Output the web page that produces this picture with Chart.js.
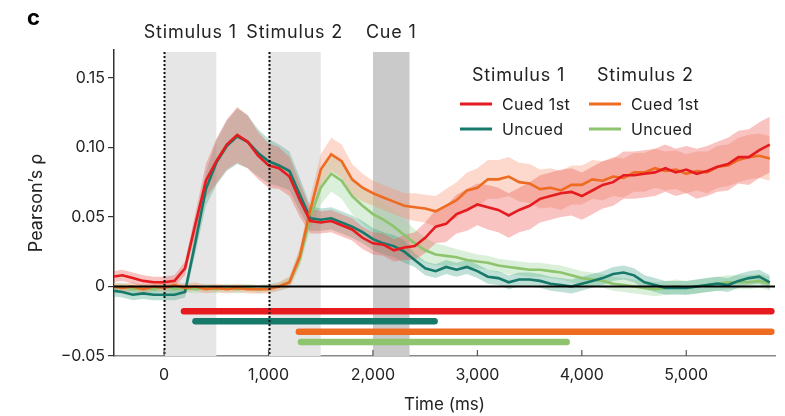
<!DOCTYPE html>
<html>
<head>
<meta charset="utf-8">
<script src="https://cdn.jsdelivr.net/npm/chart.js@4.4.0/dist/chart.umd.min.js"></script>
<style>
  html, body { margin: 0; padding: 0; background: #fff; }
</style>
</head>
<body>
<canvas id="chart" width="785" height="416"></canvas>
<script>
// Temps (ms)
const times = [-500, -400, -300, -200, -100, 0, 100, 200, 300, 400,
  500, 600, 700, 800, 900, 1000, 1100, 1200, 1300, 1400,
  1500, 1600, 1700, 1800, 1900, 2000, 2100, 2200, 2300, 2400,
  2500, 2600, 2700, 2800, 2900, 3000, 3100, 3200, 3300, 3400,
  3500, 3600, 3700, 3800, 3900, 4000, 4100, 4200, 4300, 4400,
  4500, 4600, 4700, 4800, 4900, 5000, 5100, 5200, 5300, 5400,
  5500, 5600, 5700, 5800];

// Stimulus 1 - cued 1st
const stim1Cued = [0.007, 0.008, 0.006, 0.004, 0.003, 0.003, 0.004, 0.013, 0.045, 0.076,
  0.090, 0.102, 0.109, 0.104, 0.094, 0.087, 0.085, 0.079, 0.062, 0.047,
  0.046, 0.047, 0.044, 0.041, 0.035, 0.031, 0.030, 0.026, 0.028, 0.029,
  0.035, 0.043, 0.045, 0.052, 0.055, 0.059, 0.057, 0.055, 0.051, 0.055,
  0.058, 0.063, 0.065, 0.067, 0.068, 0.065, 0.069, 0.073, 0.075, 0.080,
  0.080, 0.081, 0.082, 0.085, 0.082, 0.084, 0.081, 0.083, 0.086, 0.088,
  0.093, 0.093, 0.098, 0.102];
const stim1CuedErr = [0.004, 0.004, 0.004, 0.004, 0.004, 0.004, 0.004, 0.005, 0.008, 0.012,
  0.016, 0.018, 0.020, 0.019, 0.017, 0.016, 0.015, 0.014, 0.012, 0.009,
  0.008, 0.008, 0.008, 0.008, 0.008, 0.008, 0.008, 0.008, 0.009, 0.010,
  0.011, 0.012, 0.013, 0.014, 0.015, 0.015, 0.016, 0.016, 0.016, 0.016,
  0.017, 0.017, 0.017, 0.017, 0.017, 0.017, 0.017, 0.017, 0.017, 0.017,
  0.017, 0.017, 0.017, 0.017, 0.017, 0.017, 0.018, 0.018, 0.018, 0.019,
  0.019, 0.020, 0.020, 0.020];

// Stimulus 1 - uncued
const stim1Uncued = [-0.003, -0.004, -0.006, -0.005, -0.006, -0.006, -0.006, -0.004, 0.032, 0.070,
  0.089, 0.101, 0.108, 0.104, 0.096, 0.090, 0.087, 0.083, 0.066, 0.049,
  0.048, 0.049, 0.046, 0.043, 0.039, 0.034, 0.031, 0.029, 0.025, 0.019,
  0.013, 0.011, 0.014, 0.012, 0.014, 0.011, 0.007, 0.006, 0.003, 0.005,
  0.005, 0.004, 0.002, 0.001, 0.000, 0.002, 0.004, 0.006, 0.009, 0.010,
  0.008, 0.003, 0.001, -0.001, -0.001, -0.001, 0.000, 0.001, 0.002, 0.001,
  0.004, 0.006, 0.007, 0.003];
const stim1UncuedErr = [0.004, 0.004, 0.004, 0.004, 0.004, 0.004, 0.004, 0.004, 0.008, 0.012,
  0.016, 0.018, 0.020, 0.019, 0.017, 0.016, 0.015, 0.014, 0.012, 0.009,
  0.008, 0.008, 0.008, 0.008, 0.008, 0.008, 0.008, 0.008, 0.008, 0.005,
  0.005, 0.005, 0.005, 0.005, 0.005, 0.005, 0.005, 0.005, 0.005, 0.005,
  0.005, 0.005, 0.005, 0.005, 0.005, 0.005, 0.005, 0.005, 0.005, 0.005,
  0.005, 0.005, 0.005, 0.005, 0.005, 0.005, 0.005, 0.005, 0.005, 0.005,
  0.005, 0.005, 0.005, 0.005];

// Stimulus 2 - cued 1st
const stim2Cued = [0.000, -0.001, 0.000, -0.002, 0.000, -0.001, 0.001, -0.001, 0.000, -0.002,
  -0.001, -0.002, -0.001, -0.002, -0.002, -0.002, 0.000, 0.003, 0.022, 0.055,
  0.084, 0.095, 0.090, 0.077, 0.071, 0.067, 0.064, 0.061, 0.058, 0.057,
  0.056, 0.054, 0.058, 0.062, 0.069, 0.071, 0.077, 0.077, 0.079, 0.075,
  0.074, 0.070, 0.071, 0.069, 0.073, 0.073, 0.077, 0.076, 0.079, 0.078,
  0.082, 0.082, 0.085, 0.083, 0.084, 0.081, 0.083, 0.082, 0.086, 0.087,
  0.091, 0.093, 0.094, 0.092];
const stim2CuedErr = [0.003, 0.003, 0.003, 0.003, 0.003, 0.003, 0.003, 0.003, 0.003, 0.003,
  0.003, 0.003, 0.003, 0.003, 0.003, 0.003, 0.003, 0.004, 0.006, 0.009,
  0.011, 0.012, 0.012, 0.011, 0.010, 0.009, 0.009, 0.009, 0.009, 0.010,
  0.010, 0.011, 0.012, 0.013, 0.013, 0.014, 0.014, 0.014, 0.014, 0.014,
  0.014, 0.014, 0.014, 0.014, 0.014, 0.014, 0.014, 0.014, 0.014, 0.014,
  0.014, 0.014, 0.014, 0.014, 0.014, 0.014, 0.014, 0.015, 0.015, 0.015,
  0.016, 0.016, 0.016, 0.016];

// Stimulus 2 - uncued
const stim2Uncued = [-0.001, 0.000, -0.002, -0.001, -0.002, 0.000, -0.002, -0.001, -0.002, -0.001,
  -0.002, -0.001, -0.002, -0.001, -0.002, -0.001, 0.000, 0.003, 0.020, 0.050,
  0.071, 0.081, 0.076, 0.065, 0.058, 0.052, 0.048, 0.043, 0.037, 0.031,
  0.026, 0.023, 0.022, 0.021, 0.019, 0.018, 0.017, 0.015, 0.014, 0.013,
  0.012, 0.012, 0.011, 0.010, 0.008, 0.006, 0.005, 0.004, 0.002, 0.001,
  0.000, -0.001, -0.002, -0.001, 0.000, -0.001, 0.000, 0.001, 0.002, 0.003,
  0.003, 0.003, 0.004, 0.002];
const stim2UncuedErr = [0.003, 0.003, 0.003, 0.003, 0.003, 0.003, 0.003, 0.003, 0.003, 0.003,
  0.003, 0.003, 0.003, 0.003, 0.003, 0.003, 0.003, 0.004, 0.006, 0.009,
  0.012, 0.013, 0.013, 0.013, 0.013, 0.013, 0.012, 0.012, 0.011, 0.010,
  0.009, 0.008, 0.007, 0.006, 0.006, 0.005, 0.005, 0.005, 0.005, 0.005,
  0.005, 0.005, 0.005, 0.005, 0.005, 0.005, 0.005, 0.005, 0.005, 0.005,
  0.005, 0.005, 0.005, 0.005, 0.005, 0.005, 0.005, 0.005, 0.005, 0.005,
  0.005, 0.005, 0.005, 0.005];

// Barres de significativité (début, fin en ms, niveau en rho)
const sigStart = [190, 300, 1290, 1310];
const sigEnd = [5815, 2590, 5815, 3855];
const sigLevel = [-0.0178, -0.025, -0.0326, -0.040];

// Fenêtres grisées
const windowStart = [0, 1000, 2000];
const windowEnd = [500, 1500, 2350];
const windowLabels = ['Stimulus 1', 'Stimulus 2', 'Cue 1'];
const onsetLines = [0, 1000];

const xTicks = [0, 1000, 2000, 3000, 4000, 5000];
const xTickLabels = ['0', '1,000', '2,000', '3,000', '4,000', '5,000'];
const yTicks = [-0.05, 0, 0.05, 0.10, 0.15];
const yTickLabels = ['\u22120.05', '0', '0.05', '0.10', '0.15'];

const FONT = 'Inter, "Noto Sans", sans-serif';
const RED = '#e51b1f', TEAL = '#17796a', ORANGE = '#ee6b22', GREEN = '#8dc46d';

const pts = (vals, err, sign) => times.map((t, i) => ({ x: t, y: vals[i] + sign * (err ? err[i] : 0) }));

function band(vals, err, color, order) {
    return [
        { data: pts(vals, err, 1), borderWidth: 0, pointRadius: 0, fill: false, order: order },
        { data: pts(vals, err, -1), borderWidth: 0, pointRadius: 0, fill: '-1', backgroundColor: color, order: order }
    ];
}

function line(vals, color, order) {
    return { data: pts(vals, null, 0), borderColor: color, borderWidth: 2.6, pointRadius: 0, fill: false, order: order };
}

const sigColors = [RED, TEAL, ORANGE, GREEN];
const sigSets = sigStart.map((s, i) => ({
    data: [{ x: s, y: sigLevel[i] }, { x: sigEnd[i], y: sigLevel[i] }],
    borderColor: sigColors[i], borderWidth: 6.5, borderCapStyle: 'round',
    pointRadius: 0, fill: false, order: 0
}));

const datasets = [
    ...band(stim1Cued, stim1CuedErr, 'rgba(236,90,80,0.36)', 11),
    ...band(stim2Cued, stim2CuedErr, 'rgba(246,145,105,0.34)', 12),
    ...band(stim1Uncued, stim1UncuedErr, 'rgba(60,160,130,0.33)', 13),
    ...band(stim2Uncued, stim2UncuedErr, 'rgba(165,218,165,0.4)', 14),
    line(stim1Cued, RED, 1),
    line(stim2Cued, ORANGE, 2),
    line(stim1Uncued, TEAL, 3),
    line(stim2Uncued, GREEN, 4),
    ...sigSets
];

// Décor : zones grisées, lignes pointillées, textes et légende
const decor = {
    id: 'decor',
    beforeDatasetsDraw(chart) {
        const { ctx, chartArea: a, scales: { x } } = chart;
        ctx.save();
        windowStart.forEach((s, i) => {
            ctx.fillStyle = i === 2 ? '#cacaca' : '#e6e6e6';
            const x0 = x.getPixelForValue(s), x1 = x.getPixelForValue(windowEnd[i]);
            ctx.fillRect(x0, a.top + 2, x1 - x0, a.bottom - a.top - 2);
        });
        ctx.restore();
    },
    afterDatasetsDraw(chart) {
        const { ctx, chartArea: a, scales: { x, y } } = chart;
        ctx.save();
        // ligne zéro
        ctx.strokeStyle = '#000';
        ctx.lineWidth = 2;
        ctx.beginPath();
        ctx.moveTo(a.left, y.getPixelForValue(0));
        ctx.lineTo(a.right, y.getPixelForValue(0));
        ctx.stroke();
        // onsets
        ctx.setLineDash([2, 2]);
        ctx.strokeStyle = '#111';
        onsetLines.forEach(t => {
            const px = Math.round(x.getPixelForValue(t)) + 0.5;
            ctx.beginPath();
            ctx.moveTo(px, a.top + 2);
            ctx.lineTo(px, a.bottom);
            ctx.stroke();
        });
        ctx.setLineDash([]);
        // petites graduations vers l'intérieur
        ctx.strokeStyle = '#555';
        ctx.lineWidth = 1.2;
        xTicks.forEach(t => {
            const px = x.getPixelForValue(t);
            ctx.beginPath();
            ctx.moveTo(px, a.bottom);
            ctx.lineTo(px, a.bottom - 6);
            ctx.stroke();
        });
        ctx.restore();
    },
    afterDraw(chart) {
        const { ctx, scales: { x } } = chart;
        ctx.save();
        ctx.fillStyle = '#222';
        ctx.textBaseline = 'middle';
        ctx.font = '18px ' + FONT;
        ctx.letterSpacing = '0.8px';
        ctx.textAlign = 'center';
        windowLabels.forEach((lab, i) => {
            const cx = (x.getPixelForValue(windowStart[i]) + x.getPixelForValue(windowEnd[i])) / 2;
            ctx.fillText(lab, cx, 33);
        });
        // légende
        ctx.textAlign = 'left';
        ctx.fillText('Stimulus 1', 472, 76);
        ctx.fillText('Stimulus 2', 597, 76);
        ctx.font = '16px ' + FONT;
        ctx.letterSpacing = '0.4px';
        const rows = [
            [RED, 'Cued 1st', 460, 104], [TEAL, 'Uncued', 460, 129],
            [ORANGE, 'Cued 1st', 589, 104], [GREEN, 'Uncued', 589, 129]
        ];
        rows.forEach(([c, lab, lx, ly]) => {
            ctx.strokeStyle = c;
            ctx.lineWidth = 3;
            ctx.beginPath();
            ctx.moveTo(lx, ly);
            ctx.lineTo(lx + 32, ly);
            ctx.stroke();
            ctx.fillText(lab, lx + 42, ly + 1);
        });
        // lettre du panneau
        ctx.letterSpacing = '0px';
        ctx.font = 'bold 22px ' + FONT;
        ctx.textBaseline = 'alphabetic';
        ctx.fillStyle = '#000';
        ctx.fillText('c', 27, 25);
        ctx.restore();
    }
};

new Chart(document.getElementById('chart'), {
    type: 'line',
    data: { datasets: datasets },
    options: {
        responsive: false,
        animation: false,
        events: [],
        layout: { padding: { top: 50, right: 10, left: 0, bottom: 0 } },
        plugins: { legend: { display: false }, tooltip: { enabled: false } },
        scales: {
            x: {
                type: 'linear',
                min: -480,
                max: 5850,
                afterFit: s => { s.height = 60; },
                afterBuildTicks: s => { s.ticks = xTicks.map(v => ({ value: v })); },
                grid: { display: false, drawTicks: false },
                border: { display: true, color: '#888', width: 1.5 },
                ticks: {
                    padding: 10, maxRotation: 0, autoSkip: false, color: '#222',
                    font: { family: FONT, size: 16 },
                    callback: (v, i) => xTickLabels[i]
                },
                title: {
                    display: true, text: 'Time (ms)', color: '#222',
                    font: { family: FONT, size: 17 }, padding: { top: 0, bottom: 1 }
                }
            },
            y: {
                min: -0.05,
                max: 0.17,
                afterFit: s => { s.width = 114; },
                afterBuildTicks: s => { s.ticks = yTicks.map(v => ({ value: v })); },
                grid: { drawOnChartArea: false, drawTicks: true, tickLength: 6, color: '#333', lineWidth: 1.2 },
                border: { display: true, color: '#333', width: 1.5 },
                ticks: {
                    padding: 3, color: '#222',
                    font: { family: FONT, size: 16 },
                    callback: (v, i) => yTickLabels[i]
                },
                title: {
                    display: true, text: 'Pearson\u2019s \u03c1', color: '#222',
                    font: { family: FONT, size: 18 }, padding: { top: 26, bottom: 0 }
                }
            }
        }
    },
    plugins: [decor]
});
</script>
</body>
</html>
